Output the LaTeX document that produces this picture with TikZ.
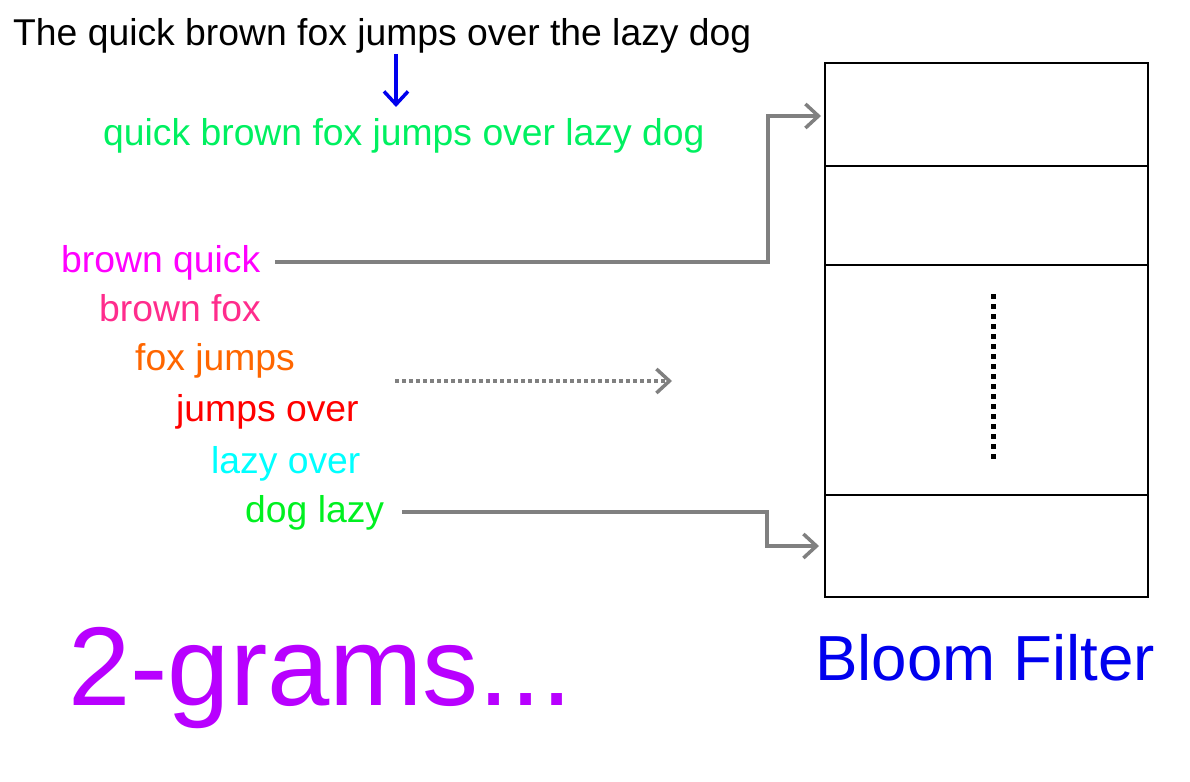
\documentclass[tikz,border=0pt]{standalone}
\usepackage{fontspec}
\setmainfont{Liberation Sans}
\usetikzlibrary{arrows.meta}
\definecolor{cgreenA}{HTML}{00F060}
\definecolor{cmag}{HTML}{FF00FF}
\definecolor{cpink}{HTML}{FF2C8C}
\definecolor{corange}{HTML}{FF6600}
\definecolor{cred}{HTML}{FF0000}
\definecolor{ccyan}{HTML}{00FFFF}
\definecolor{cgreenB}{HTML}{00F020}
\definecolor{cpurple}{HTML}{B800FF}
\definecolor{cblue}{HTML}{0000EE}
\definecolor{cgray}{HTML}{808080}
\tikzset{
  txt/.style={anchor=base west, inner sep=0pt, font=\fontsize{37.3}{40}\selectfont},
  tip/.style={-{Straight Barb[length=13pt,width=24pt,line width=3.5pt]}},
  conn/.style={draw=cgray, line width=3.5pt, tip},
  cell/.style={draw=black, line width=2pt},
}
\begin{document}
\begin{tikzpicture}[x=1pt,y=-1pt]
\useasboundingbox (0,0) rectangle (1190,781);
% texts
\node[txt] (title) at (13,46) {The quick brown fox jumps over the lazy dog};
\node[txt, text=cgreenA] (clean) at (103,146) {quick brown fox jumps over lazy dog};
\node[txt, text=cmag] (g1) at (61,272) {brown quick};
\node[txt, text=cpink] (g2) at (99,321) {brown fox};
\node[txt, text=corange] (g3) at (135,370) {fox jumps};
\node[txt, text=cred] (g4) at (176,421) {jumps over};
\node[txt, text=ccyan] (g5) at (211,473) {lazy over};
\node[txt, text=cgreenB] (g6) at (245,522) {dog lazy};
\node[anchor=base west, inner sep=0pt, text=cpurple, font=\fontsize{112}{120}\selectfont] (grams) at (68,705) {2-grams...};
\node[anchor=base west, inner sep=0pt, text=cblue, font=\fontsize{63.7}{70}\selectfont] (bloom) at (815,680) {Bloom Filter};
% bloom filter box
\coordinate (bfTL) at (825,63);
\coordinate (bfBR) at (1148,597);
\draw[cell] (bfTL) rectangle (bfBR);
\coordinate (l1a) at (825,166); \coordinate (l1b) at (1148,166);
\coordinate (l2a) at (825,265); \coordinate (l2b) at (1148,265);
\coordinate (l3a) at (825,495); \coordinate (l3b) at (1148,495);
\draw[cell] (l1a) -- (l1b);
\draw[black, line width=1.5pt] (l2a) -- (l2b);
\draw[cell] (l3a) -- (l3b);
\coordinate (dotTop) at (993,294);
\coordinate (dotBot) at (993,462);
\draw[black, line width=5pt, dash pattern=on 5pt off 5pt] (dotTop) -- (dotBot);
% blue arrow
\coordinate (ba1) at (396,54);
\coordinate (ba2) at (396,107);
\draw[cblue, line width=3.5pt, tip] (ba1) -- (ba2);
% connectors
\coordinate (c1s) at (275,262);
\coordinate (c1e) at (821,116);
\draw[conn] (c1s) -- (768,262) |- (c1e);
\coordinate (c2s) at (402,512);
\coordinate (c2e) at (819,546);
\draw[conn] (c2s) -- (767,512) |- (c2e);
\coordinate (d1) at (395,381);
\coordinate (d2) at (672,381);
\draw[cgray, line width=3.5pt, dash pattern=on 3.5pt off 3.5pt, tip] (d1) -- (d2);
\end{tikzpicture}
\end{document}
